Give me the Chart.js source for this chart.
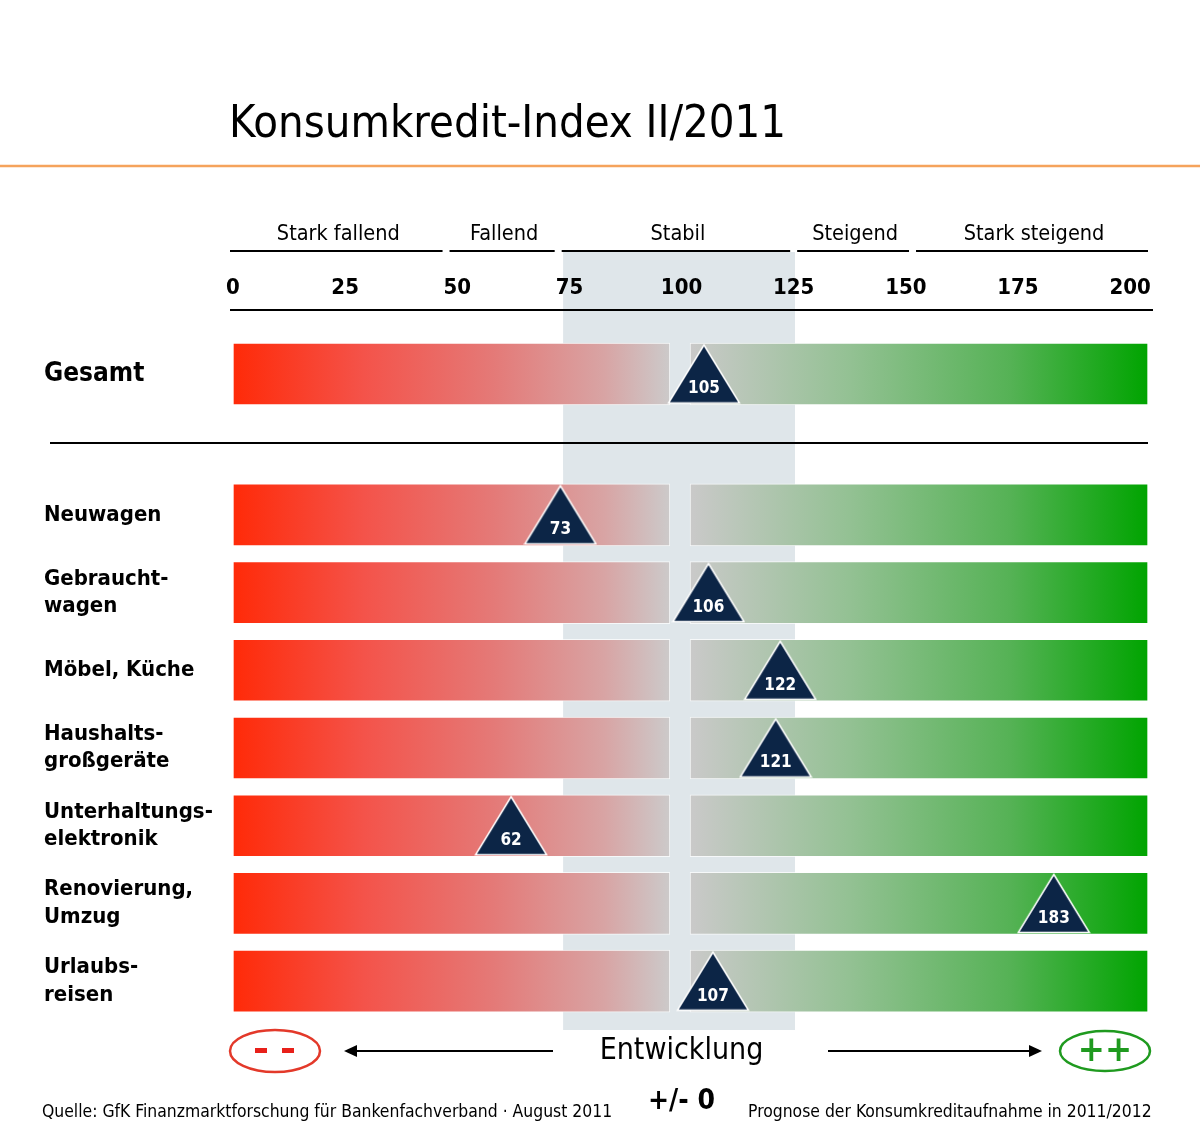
<!DOCTYPE html>
<html>
<head>
<meta charset="utf-8">
<title>Konsumkredit-Index II/2011</title>
<script src="https://cdn.jsdelivr.net/npm/chart.js@4"></script>
<style>
    body { margin: 0; background: #ffffff; }
    .wrap { position: relative; width: 1200px; height: 1148px; }
    .wrap canvas { position: absolute; left: 0; }
    #topChart { top: 0; }
    #rowChart { top: 445px; }
</style>
</head>
<body>
<div class="wrap">
    <canvas id="topChart" width="1200" height="470"></canvas>
    <canvas id="rowChart" width="1200" height="703"></canvas>
</div>
<script>
// ====== DATA ======
const totalLabels = ["Gesamt"];
const totalValues = [105];

const rowLabels = [
    "Neuwagen",
    ["Gebraucht-", "wagen"],
    "Möbel, Küche",
    ["Haushalts-", "großgeräte"],
    ["Unterhaltungs-", "elektronik"],
    ["Renovierung,", "Umzug"],
    ["Urlaubs-", "reisen"]
];
const rowValues = [73, 106, 122, 121, 62, 183, 107];

const tickValues = [0, 25, 50, 75, 100, 125, 150, 175, 200];
const zoneNames = ["Stark fallend", "Fallend", "Stabil", "Steigend", "Stark steigend"];
const zoneBounds = [0, 47.5, 72.5, 125, 151.5, 204];

const fallRange = [0, 97.4];
const riseRange = [101.9, 204];
const stableRange = [73.6, 125.3];

const FONT = 'Tahoma, "DejaVu Sans Condensed", "DejaVu Sans", sans-serif';
Chart.defaults.font.family = FONT;
Chart.defaults.color = "#000";

function fallGradient(ctx) {
    const chart = ctx.chart;
    if (!chart.chartArea) return "#ee6055";
    const x = chart.scales.x;
    const g = chart.ctx.createLinearGradient(x.getPixelForValue(fallRange[0]), 0, x.getPixelForValue(fallRange[1]), 0);
    g.addColorStop(0, "#ff2a08");
    g.addColorStop(0.3, "#f4534a");
    g.addColorStop(0.6, "#e47a78");
    g.addColorStop(0.85, "#d8a4a4");
    g.addColorStop(1, "#cccaca");
    return g;
}

function riseGradient(ctx) {
    const chart = ctx.chart;
    if (!chart.chartArea) return "#70b870";
    const x = chart.scales.x;
    const g = chart.ctx.createLinearGradient(x.getPixelForValue(riseRange[0]), 0, x.getPixelForValue(riseRange[1]), 0);
    g.addColorStop(0, "#cac9c9");
    g.addColorStop(0.35, "#93c193");
    g.addColorStop(0.7, "#55b255");
    g.addColorStop(1, "#00a400");
    return g;
}

// triangle marker as point style image
function makeTriangle(w, h) {
    const c = document.createElement("canvas");
    c.width = w;
    c.height = h;
    const t = c.getContext("2d");
    t.beginPath();
    t.moveTo(w / 2, 1.5);
    t.lineTo(w - 1.5, h - 1.5);
    t.lineTo(1.5, h - 1.5);
    t.closePath();
    t.fillStyle = "#0c2546";
    t.fill();
    t.strokeStyle = "#ffffff";
    t.lineWidth = 1.5;
    t.stroke();
    return c;
}
const triangle = makeTriangle(74, 61);

function drawBand(chart, y1, y2) {
    const x = chart.scales.x;
    const c = chart.ctx;
    const a = x.getPixelForValue(stableRange[0]);
    const b = x.getPixelForValue(stableRange[1]);
    c.save();
    c.fillStyle = "#dfe6ea";
    c.fillRect(a, y1, b - a, y2 - y1);
    c.restore();
}

function hLine(c, x1, x2, y, w, color) {
    c.save();
    c.beginPath();
    c.moveTo(x1, y);
    c.lineTo(x2, y);
    c.lineWidth = w;
    c.strokeStyle = color || "#000";
    c.stroke();
    c.restore();
}

function arrow(c, from, to, y) {
    const dir = to > from ? 1 : -1;
    hLine(c, from, to - dir * 10, y, 2, "#000");
    c.save();
    c.beginPath();
    c.moveTo(to, y);
    c.lineTo(to - dir * 13, y - 6);
    c.lineTo(to - dir * 13, y + 6);
    c.closePath();
    c.fillStyle = "#000";
    c.fill();
    c.restore();
}

const markerLabels = {
    id: "markerLabels",
    afterDatasetsDraw(chart) {
        const c = chart.ctx;
        const values = chart.data.datasets[2].data;
        const meta = chart.getDatasetMeta(2);
        c.save();
        c.fillStyle = "#ffffff";
        c.font = "bold 17px " + FONT;
        c.textAlign = "center";
        c.textBaseline = "middle";
        meta.data.forEach((pt, i) => {
            c.fillText(values[i], pt.x, pt.y + 15);
        });
        c.restore();
    }
};

const topDecor = {
    id: "topDecor",
    beforeDraw(chart) {
        const c = chart.ctx;
        const x = chart.scales.x;
        drawBand(chart, 252, chart.height);

        // title + orange rule
        c.save();
        c.font = "45px " + FONT;
        c.textBaseline = "middle";
        c.fillStyle = "#000";
        c.fillText("Konsumkredit-Index II/2011", 229, 125);
        c.restore();
        hLine(c, 0, 1200, 166, 2.5, "#f5a35c");

        // zone headers
        c.save();
        c.font = "21.5px " + FONT;
        c.textAlign = "center";
        c.textBaseline = "middle";
        c.fillStyle = "#000";
        zoneNames.forEach((name, i) => {
            const a = x.getPixelForValue(zoneBounds[i]) + (i === 0 ? -3 : 3.5);
            const b = x.getPixelForValue(zoneBounds[i + 1]) - (i === zoneNames.length - 1 ? 0 : 3.5);
            c.fillText(name, (a + b) / 2 + 2, 234);
            hLine(c, a, b, 251, 2, "#000");
        });
        c.restore();
    },
    afterDraw(chart) {
        const c = chart.ctx;
        hLine(c, 230, 1153, 310, 2, "#000");
        hLine(c, 50, 1148, 443, 2, "#000");
    }
};

const bottomDecor = {
    id: "bottomDecor",
    beforeDraw(chart) {
        drawBand(chart, 0, 585);
    },
    afterDraw(chart) {
        const c = chart.ctx;
        const x = chart.scales.x;
        const mid = x.getPixelForValue(100);
        const y = 606;

        c.save();
        // minus ellipse
        c.beginPath();
        c.ellipse(275, y, 45, 21, 0, 0, Math.PI * 2);
        c.lineWidth = 2.5;
        c.strokeStyle = "#e3392a";
        c.stroke();
        c.fillStyle = "#e8201a";
        c.fillRect(255, y - 3, 12, 5);
        c.fillRect(282, y - 3, 12, 5);

        // plus ellipse
        c.beginPath();
        c.ellipse(1105, y, 45, 20, 0, 0, Math.PI * 2);
        c.strokeStyle = "#1f9a1f";
        c.stroke();
        c.fillStyle = "#1f9a1f";
        c.font = "bold 36px " + FONT;
        c.textAlign = "center";
        c.textBaseline = "middle";
        c.fillText("++", 1105, y + 1);

        c.fillStyle = "#000";
        c.font = "30px " + FONT;
        c.fillText("Entwicklung", mid, y);
        c.restore();

        arrow(c, 553, 344, y);
        arrow(c, 828, 1042, y);

        c.save();
        c.fillStyle = "#000";
        c.textBaseline = "middle";
        c.font = "17.4px " + FONT;
        c.fillText("Quelle: GfK Finanzmarktforschung für Bankenfachverband \u00b7 August 2011", 42, 667);
        c.fillText("Prognose der Konsumkreditaufnahme in 2011/2012", 748, 667);
        c.font = "bold 28px " + FONT;
        c.textAlign = "center";
        c.fillText("+/- 0", mid, 657);
        c.restore();
    }
};

function buildChart(canvasId, labels, values, opts) {
    const ctx = document.getElementById(canvasId).getContext("2d");
    return new Chart(ctx, {
        type: "bar",
        data: {
            labels: labels,
            datasets: [
                {
                    data: labels.map(() => fallRange),
                    backgroundColor: fallGradient,
                    borderColor: "rgba(255,255,255,0.7)",
                    borderWidth: 1,
                    borderSkipped: false,
                    barThickness: 62,
                    grouped: false,
                    order: 2
                },
                {
                    data: labels.map(() => riseRange),
                    backgroundColor: riseGradient,
                    borderColor: "rgba(255,255,255,0.7)",
                    borderWidth: 1,
                    borderSkipped: false,
                    barThickness: 62,
                    grouped: false,
                    order: 2
                },
                {
                    type: "line",
                    indexAxis: "y",
                    data: values,
                    showLine: false,
                    pointStyle: triangle,
                    pointRadius: 30,
                    pointHoverRadius: 30,
                    clip: false,
                    order: 0
                }
            ]
        },
        options: {
            indexAxis: "y",
            responsive: false,
            animation: false,
            events: [],
            layout: { padding: opts.padding },
            plugins: {
                legend: { display: false },
                tooltip: { enabled: false }
            },
            scales: {
                x: {
                    type: "linear",
                    min: 0,
                    max: 204,
                    position: "top",
                    display: opts.showTicks,
                    grid: { display: false, drawTicks: false },
                    border: { display: false },
                    ticks: {
                        font: { size: 22, weight: "bold" },
                        color: "#000",
                        padding: 9
                    },
                    afterBuildTicks: (axis) => {
                        axis.ticks = tickValues.map(v => ({ value: v }));
                    },
                    afterFit: (axis) => {
                        if (opts.showTicks) axis.height = 60;
                    }
                },
                y: {
                    type: "category",
                    grid: { display: false },
                    border: { display: false },
                    ticks: {
                        crossAlign: "far",
                        color: "#000",
                        font: { size: opts.labelSize, weight: "bold", lineHeight: 1.25 }
                    },
                    afterFit: (axis) => {
                        axis.width = 189;
                    }
                }
            }
        },
        plugins: opts.plugins
    });
}

buildChart("topChart", totalLabels, totalValues, {
    padding: { left: 44, right: 52, top: 250, bottom: 32 },
    showTicks: true,
    labelSize: 26,
    plugins: [topDecor, markerLabels]
});

buildChart("rowChart", rowLabels, rowValues, {
    padding: { left: 44, right: 52, top: 28, bottom: 128 },
    showTicks: false,
    labelSize: 22,
    plugins: [bottomDecor, markerLabels]
});
</script>
</body>
</html>
